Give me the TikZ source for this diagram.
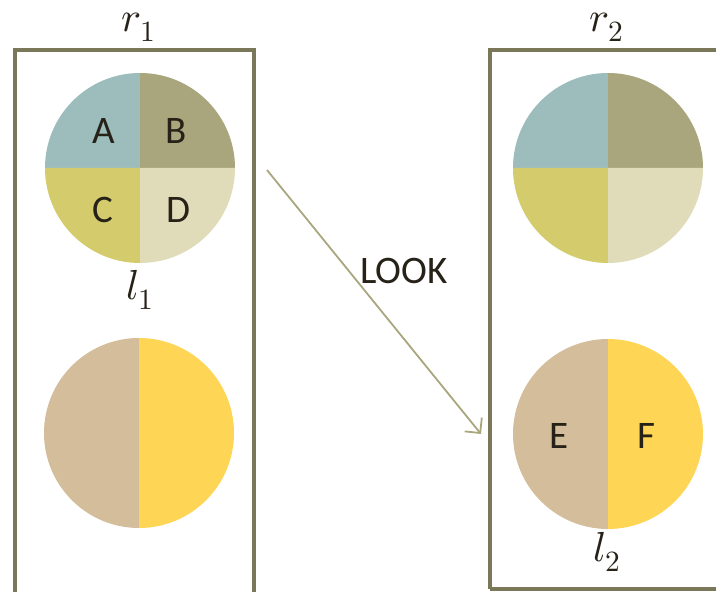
\documentclass[tikz,border=0pt]{standalone}
\usepackage{fontspec}
\usepackage{unicode-math}
\newfontfamily\labelfont{Carlito}
\usetikzlibrary{arrows.meta}
\definecolor{frame}{HTML}{7B785A}
\definecolor{qteal}{HTML}{9DBDBD}
\definecolor{qolive}{HTML}{A9A67D}
\definecolor{qmoss}{HTML}{D3CB6C}
\definecolor{qcream}{HTML}{E0DCBA}
\definecolor{htan}{HTML}{D4BD9B}
\definecolor{hgold}{HTML}{FFD555}
\definecolor{ink}{HTML}{262218}
\begin{document}
\begin{tikzpicture}[x=1pt,y=1pt,
  framebox/.style={draw=frame,line width=4pt},
  letter/.style={text=ink,font=\labelfont\fontsize{39}{41}\selectfont,inner sep=0pt},
  mathlbl/.style={text=ink,font=\fontsize{42}{44}\selectfont,inner sep=0pt},
  look/.style={draw=qolive,line width=1.8pt,-{Straight Barb[length=11pt,width=22pt,line width=1.8pt]}}]
\useasboundingbox (0,0) rectangle (716,592);
\begin{scope}
\clip (0,0) rectangle (716,592);
% frames
\draw[framebox] (15,-10) -- (15,542) -- (254,542) -- (254,-10);
\draw[framebox] (489.5,3) -- (489.5,542) -- (730,542);
\draw[framebox] (489.5,3) -- (730,3);
\end{scope}
% quartered circle (left)
\coordinate (q1) at (140,424);
\fill[qteal]  (q1) -- ++(0,95) arc[start angle=90,end angle=180,radius=95] -- cycle;
\fill[qolive] (q1) -- ++(95,0) arc[start angle=0,end angle=90,radius=95] -- cycle;
\fill[qmoss]  (q1) -- ++(-95,0) arc[start angle=180,end angle=270,radius=95] -- cycle;
\fill[qcream] (q1) -- ++(0,-95) arc[start angle=270,end angle=360,radius=95] -- cycle;
% quartered circle (right)
\coordinate (q2) at (608,424);
\fill[qteal]  (q2) -- ++(0,95) arc[start angle=90,end angle=180,radius=95] -- cycle;
\fill[qolive] (q2) -- ++(95,0) arc[start angle=0,end angle=90,radius=95] -- cycle;
\fill[qmoss]  (q2) -- ++(-95,0) arc[start angle=180,end angle=270,radius=95] -- cycle;
\fill[qcream] (q2) -- ++(0,-95) arc[start angle=270,end angle=360,radius=95] -- cycle;
% halved circle (left)
\coordinate (h1) at (139,159);
\fill[htan]  (h1) -- ++(0,95) arc[start angle=90,end angle=270,radius=95] -- cycle;
\fill[hgold] (h1) -- ++(0,-95) arc[start angle=270,end angle=450,radius=95] -- cycle;
% halved circle (right)
\coordinate (h2) at (608,158);
\fill[htan]  (h2) -- ++(0,95) arc[start angle=90,end angle=270,radius=95] -- cycle;
\fill[hgold] (h2) -- ++(0,-95) arc[start angle=270,end angle=450,radius=95] -- cycle;
% labels
\node[letter] (A) at (103.5,461) {A};
\node[letter] (B) at (176.5,461) {B};
\node[letter] (C) at (102.5,382.5) {C};
\node[letter] (D) at (178.5,382.5) {D};
\node[letter] (E) at (559,156) {E};
\node[letter] (F) at (646.5,156) {F};
\node[mathlbl] (r1) at (139,565) {$r_1$};
\node[mathlbl] (r2) at (607,565) {$r_2$};
\node[mathlbl] (l1) at (140,302) {$l_1$};
\node[mathlbl] (l2) at (607,40) {$l_2$};
% LOOK move
\coordinate (src) at (267,422);
\coordinate (dst) at (481,158);
\draw[look] (src) -- (dst);
\node[letter] (look) at (404,321) {LOOK};
\end{tikzpicture}
\end{document}
